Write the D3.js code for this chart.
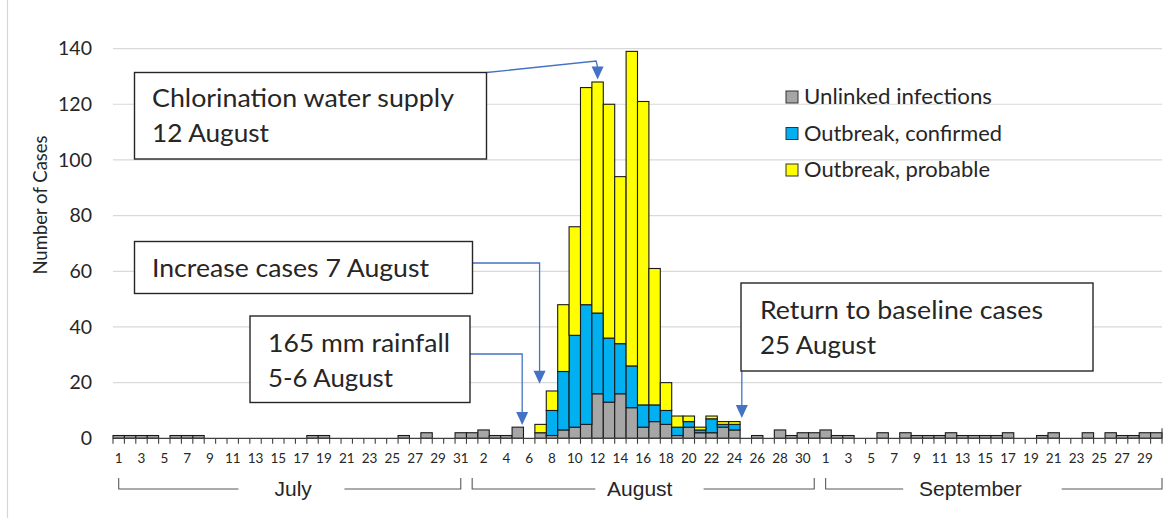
<!DOCTYPE html>
<html>
<head>
<meta charset="utf-8">
<script src="https://cdn.jsdelivr.net/npm/d3@7"></script>
<style>
  html, body { margin: 0; padding: 0; background: #fff; }
  svg { display: block; }
  text { font-family: Lato, "Open Sans", sans-serif; fill: #262626; }
</style>
</head>
<body>
<svg id="chart" width="1168" height="518"></svg>
<script>
// Daily case counts, 1 July – 30 September
const julyDays = [1,2,3,4,5,6,7,8,9,10,11,12,13,14,15,16,17,18,19,20,21,22,23,24,25,26,27,28,29,30,31];
const augustDays = [1,2,3,4,5,6,7,8,9,10,11,12,13,14,15,16,17,18,19,20,21,22,23,24,25,26,27,28,29,30,31];
const septemberDays = [1,2,3,4,5,6,7,8,9,10,11,12,13,14,15,16,17,18,19,20,21,22,23,24,25,26,27,28,29,30];
const monthNames = ["July", "August", "September"];

const unlinkedJuly = [1,1,1,1,0,1,1,1,0,0,0,0,0,0,0,0,0,1,1,0,0,0,0,0,0,1,0,2,0,0,2];
const unlinkedAugust = [2,3,1,1,4,0,2,1,3,4,5,16,13,16,11,4,6,5,1,4,2,2,4,3,0,1,0,3,1,2,2];
const unlinkedSeptember = [3,1,1,0,0,2,0,2,1,1,1,2,1,1,1,1,2,0,0,1,2,0,0,2,0,2,1,1,2,2];

const confirmedJuly = [0,0,0,0,0,0,0,0,0,0,0,0,0,0,0,0,0,0,0,0,0,0,0,0,0,0,0,0,0,0,0];
const confirmedAugust = [0,0,0,0,0,0,0,9,21,33,43,29,23,18,15,8,6,5,3,2,1,5,1,2,0,0,0,0,0,0,0];
const confirmedSeptember = [0,0,0,0,0,0,0,0,0,0,0,0,0,0,0,0,0,0,0,0,0,0,0,0,0,0,0,0,0,0];

const probableJuly = [0,0,0,0,0,0,0,0,0,0,0,0,0,0,0,0,0,0,0,0,0,0,0,0,0,0,0,0,0,0,0];
const probableAugust = [0,0,0,0,0,0,3,7,24,39,78,83,84,60,113,109,49,10,4,2,1,1,1,1,0,0,0,0,0,0,0];
const probableSeptember = [0,0,0,0,0,0,0,0,0,0,0,0,0,0,0,0,0,0,0,0,0,0,0,0,0,0,0,0,0,0];

const yTicks = [0, 20, 40, 60, 80, 100, 120, 140];

const seriesKeys = ["unlinked", "confirmed", "probable"];
const seriesNames = ["Unlinked infections", "Outbreak, confirmed", "Outbreak, probable"];
const seriesColors = ["#A6A6A6", "#00B0F0", "#FFFF00"];

// Event annotations: text lines, the day the arrow points at
const notes = [
  { lines: ["Chlorination water supply", "12 August"], month: 1, day: 12 },
  { lines: ["Increase cases 7 August"], month: 1, day: 7 },
  { lines: ["165 mm rainfall", "5-6 August"], month: 1, day: 6 },
  { lines: ["Return to baseline cases", "25 August"], month: 1, day: 25 }
];

// ---- assemble rows ----
const monthDays = [julyDays, augustDays, septemberDays];
const unl = [unlinkedJuly, unlinkedAugust, unlinkedSeptember];
const con = [confirmedJuly, confirmedAugust, confirmedSeptember];
const pro = [probableJuly, probableAugust, probableSeptember];
const rows = [];
monthDays.forEach((days, m) => days.forEach((d, k) => rows.push({
  i: rows.length, month: m, day: d,
  unlinked: unl[m][k], confirmed: con[m][k], probable: pro[m][k]
})));
const idxOf = (m, d) => rows.find(r => r.month === m && r.day === d).i;

const svg = d3.select("#chart");
const plotLeft = 113, plotRight = 1162, plotTop = 48.6, base = 438.3;

const x = d3.scaleBand().domain(rows.map(r => r.i)).range([plotLeft, plotRight]).padding(0);
const y = d3.scaleLinear().domain([0, 140]).range([base, plotTop]);
const cx = i => x(i) + x.bandwidth() / 2;

// frame edge
svg.append("line").attr("x1", 7.5).attr("x2", 7.5).attr("y1", 0).attr("y2", 518)
  .attr("stroke", "#d6d6d6").attr("stroke-width", 1.2);

// gridlines
svg.append("g").selectAll("line").data(yTicks.filter(t => t > 0)).join("line")
  .attr("x1", plotLeft).attr("x2", plotRight)
  .attr("y1", d => y(d)).attr("y2", d => y(d))
  .attr("stroke", "#d9d9d9").attr("stroke-width", 1.2);

// y axis labels
const yAxis = svg.append("g").attr("transform", `translate(${plotLeft},0)`)
  .call(d3.axisLeft(y).tickValues(yTicks).tickSize(0).tickPadding(21));
yAxis.select(".domain").remove();
yAxis.selectAll("text").style("font-family", "Lato, sans-serif").style("font-size", "19.5px").attr("fill", "#262626");

svg.append("text")
  .attr("transform", `translate(47,${205}) rotate(-90)`)
  .attr("text-anchor", "middle")
  .style("font-size", "18.5px")
  .text("Number of Cases");

// stacked bars
const stack = d3.stack().keys(seriesKeys)(rows);
svg.append("g").selectAll("g").data(stack).join("g")
  .attr("fill", (d, k) => seriesColors[k])
  .selectAll("rect").data(d => d.filter(s => s[1] > s[0])).join("rect")
  .attr("x", d => x(d.data.i))
  .attr("width", x.bandwidth())
  .attr("y", d => y(d[1]))
  .attr("height", d => y(d[0]) - y(d[1]))
  .attr("stroke", "#1a1a1a").attr("stroke-width", 1.1);

// category axis: baseline, ticks between days, day labels
svg.append("line").attr("x1", plotLeft).attr("x2", plotRight).attr("y1", base).attr("y2", base)
  .attr("stroke", "#404040").attr("stroke-width", 1.2);
const bounds = rows.map(r => x(r.i)).concat([plotRight]);
svg.append("g").selectAll("line").data(bounds).join("line")
  .attr("x1", d => d).attr("x2", d => d)
  .attr("y1", (d, k) => k === bounds.length - 1 ? base - 10 : base)
  .attr("y2", base + 5.5)
  .attr("stroke", "#404040").attr("stroke-width", 1.1);

const xAxis = svg.append("g").attr("transform", `translate(0,${base})`)
  .call(d3.axisBottom(x).tickValues(rows.filter(r => r.i % 2 === 0).map(r => r.i))
    .tickSize(0).tickPadding(15).tickFormat(i => rows[i].day));
xAxis.select(".domain").remove();
xAxis.selectAll("text").style("font-family", "Lato, sans-serif").style("font-size", "13.5px").attr("fill", "#262626");

// month brackets with the month name set into a gap of the line
const monthLayout = [
  { label: 15.3, gapL: 10.5, gapR: 19.8 },
  { label: 45.7, gapL: 41.8, gapR: 51.3 },
  { label: 74.7, gapL: 68.8, gapR: 82.7 }
];
const at = f => plotLeft + f * x.bandwidth() + x.bandwidth() / 2;
const bY = 489, bTop = 478;
monthNames.forEach((name, m) => {
  const first = rows.find(r => r.month === m).i;
  const last = rows.filter(r => r.month === m).pop().i;
  const x0 = cx(first), x1 = m === 2 ? plotRight : cx(last);
  const g = svg.append("g").attr("fill", "none").attr("stroke", "#595959").attr("stroke-width", 1.1);
  g.append("path").attr("d", `M${x0},${bTop}V${bY}H${at(monthLayout[m].gapL)}`);
  g.append("path").attr("d", `M${at(monthLayout[m].gapR)},${bY}H${x1}V${bTop}`);
  svg.append("text").attr("x", at(monthLayout[m].label)).attr("y", 496)
    .attr("text-anchor", "middle")
    .style("font-family", "'Liberation Sans', Arial, sans-serif").style("font-size", "21px")
    .text(name);
});

// legend
const legendWidths = [188, 198, 186];
const legend = svg.append("g");
seriesNames.forEach((name, k) => {
  const yy = 97 + k * 36.5;
  legend.append("rect").attr("x", 786).attr("y", yy - 6).attr("width", 12).attr("height", 12)
    .attr("fill", seriesColors[k]).attr("stroke", "#333").attr("stroke-width", 1);
  legend.append("text").attr("x", 804).attr("y", yy + 7)
    .attr("textLength", legendWidths[k]).attr("lengthAdjust", "spacingAndGlyphs")
    .style("font-size", "21px").text(name);
});

// annotations
const blue = "#4472C4";
const boxes = [
  { x: 134.5, y: 72.5, w: 352, h: 86.5, tx: 152, ty: [107, 142], len: [302, 117] },
  { x: 134.5, y: 241.5, w: 338, h: 52, tx: 152, ty: [277], len: [277] },
  { x: 250, y: 316, w: 220, h: 86.5, tx: 268, ty: [352, 387], len: [182, 125] },
  { x: 741, y: 283, w: 352, h: 88, tx: 760, ty: [318.5, 353.5], len: [283, 116] }
];
function arrowHead(tx, ty) {
  svg.append("path").attr("d", `M${tx - 6},${ty - 13}L${tx + 6},${ty - 13}L${tx},${ty}Z`).attr("fill", blue);
}
notes.forEach((n, k) => {
  const b = boxes[k];
  const ax = cx(idxOf(n.month, n.day));
  const g = svg.append("g").attr("fill", "none").attr("stroke", blue).attr("stroke-width", 1.3);
  if (k === 0) {
    g.append("path").attr("d", `M${b.x + b.w},${b.y}L${ax - 1.5},${61}L${ax},${67}`);
    arrowHead(ax, 79.5);
  } else if (k === 1) {
    const my = b.y + 21.5;
    const tipY = y(20) + 1;
    g.append("path").attr("d", `M${b.x + b.w},${my}H${ax - 1}V${tipY - 12}`);
    arrowHead(ax - 1, tipY);
  } else if (k === 2) {
    const my = b.y + 38;
    const tipY = y(5) + 0.5;
    g.append("path").attr("d", `M${b.x + b.w},${my}H${ax - 7}V${tipY - 12}`);
    arrowHead(ax - 7, tipY);
  } else {
    const tipY = 418;
    g.append("path").attr("d", `M${ax - 4},${b.y + b.h}V${tipY - 12}`);
    arrowHead(ax - 4, tipY);
  }
  svg.append("rect").attr("x", b.x).attr("y", b.y).attr("width", b.w).attr("height", b.h)
    .attr("fill", "#fff").attr("stroke", "#262626").attr("stroke-width", 1.4);
  n.lines.forEach((line, j) => {
    svg.append("text").attr("x", b.tx).attr("y", b.ty[j])
      .attr("textLength", b.len[j]).attr("lengthAdjust", "spacingAndGlyphs")
      .style("font-size", "25px").text(line);
  });
});
</script>
</body>
</html>
